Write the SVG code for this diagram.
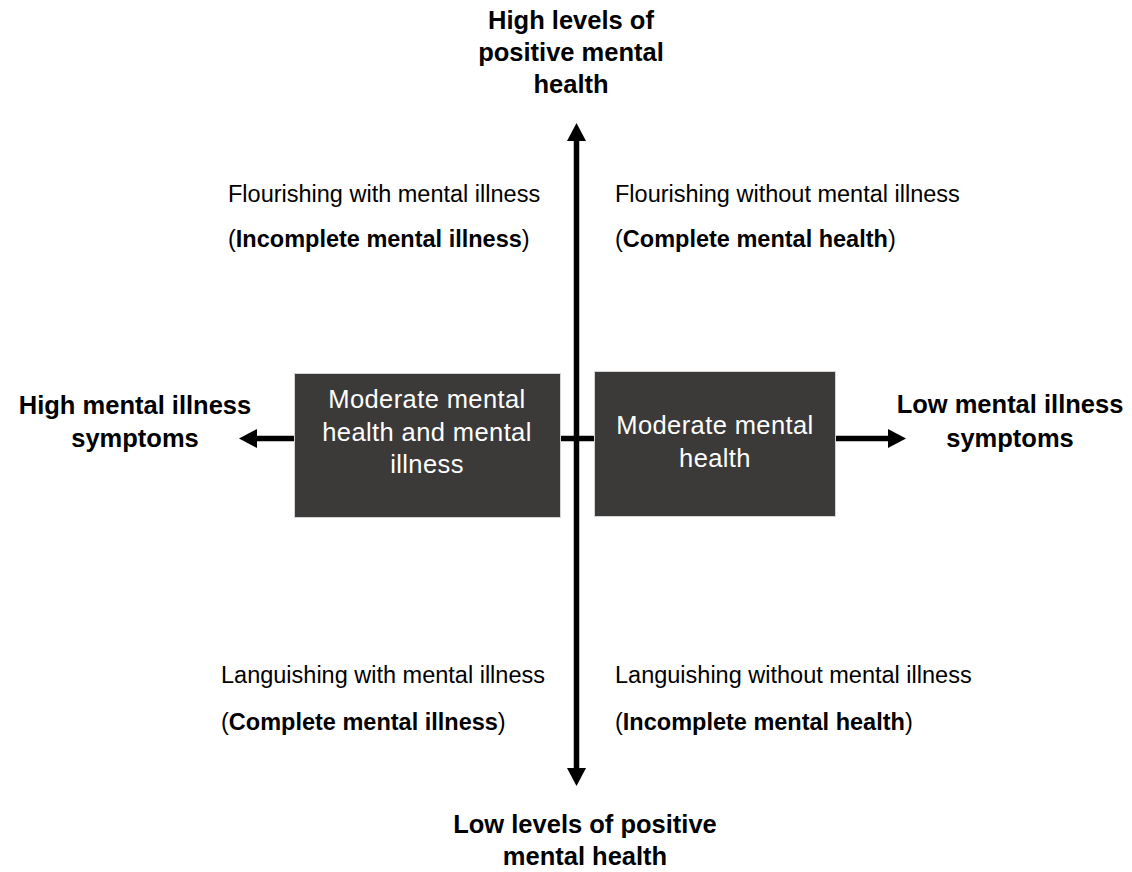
<svg xmlns="http://www.w3.org/2000/svg" width="1132" height="872" viewBox="0 0 1132 872">
<style>
  text { font-family: "Liberation Sans", Arial, sans-serif; fill: #000; }
  .head { font-size: 25.5px; font-weight: bold; text-anchor: middle; }
  .body { font-size: 23.5px; }
  .b { font-weight: bold; }
  .box { fill: #3b3a39; stroke: #d4d4d4; stroke-width: 1; }
  .boxtext { font-size: 25.5px; fill: #ffffff; text-anchor: middle; letter-spacing: 0.4px; }
  .axis { stroke: #000; stroke-width: 5.5; fill: none; }
</style>
<defs>
  <marker id="arrow" viewBox="0 0 18 19" markerWidth="18" markerHeight="19" refX="0" refY="9.5" orient="auto-start-reverse" markerUnits="userSpaceOnUse">
    <path d="M0,0 L18,9.5 L0,19 z" fill="#000"/>
  </marker>
</defs>
<rect width="1132" height="872" fill="#fff"/>

<g id="connectors">
  <line class="axis" x1="257" y1="438.5" x2="888" y2="438.5" marker-start="url(#arrow)" marker-end="url(#arrow)"/>
  <line class="axis" x1="576.5" y1="141" x2="576.5" y2="768" marker-start="url(#arrow)" marker-end="url(#arrow)"/>
</g>

<g id="node-top">
  <text class="head" x="571" y="29">High levels of</text>
  <text class="head" x="571" y="61">positive mental</text>
  <text class="head" x="571" y="93">health</text>
</g>

<g id="node-bottom">
  <text class="head" x="585" y="833">Low levels of positive</text>
  <text class="head" x="585" y="865">mental health</text>
</g>

<g id="node-left">
  <text class="head" x="135" y="414">High mental illness</text>
  <text class="head" x="135" y="447">symptoms</text>
</g>

<g id="node-right">
  <text class="head" x="1010" y="413">Low mental illness</text>
  <text class="head" x="1010" y="447">symptoms</text>
</g>

<g id="node-top-left">
  <text class="body" x="228" y="202">Flourishing with mental illness</text>
  <text class="body" x="228" y="247">(<tspan class="b">Incomplete mental illness</tspan>)</text>
</g>

<g id="node-top-right">
  <text class="body" x="615" y="202">Flourishing without mental illness</text>
  <text class="body" x="615" y="247">(<tspan class="b">Complete mental health</tspan>)</text>
</g>

<g id="node-bottom-left">
  <text class="body" x="221" y="683">Languishing with mental illness</text>
  <text class="body" x="221" y="730">(<tspan class="b">Complete mental illness</tspan>)</text>
</g>

<g id="node-bottom-right">
  <text class="body" x="615" y="683">Languishing without mental illness</text>
  <text class="body" x="615" y="730">(<tspan class="b">Incomplete mental health</tspan>)</text>
</g>

<g id="node-moderate-both">
  <rect class="box" x="294.5" y="373.5" width="266" height="144"/>
  <text class="boxtext" x="427" y="408">Moderate mental</text>
  <text class="boxtext" x="427" y="441">health and mental</text>
  <text class="boxtext" x="427" y="473">illness</text>
</g>

<g id="node-moderate-health">
  <rect class="box" x="594.5" y="371.5" width="241" height="145"/>
  <text class="boxtext" x="715" y="434">Moderate mental</text>
  <text class="boxtext" x="715" y="467">health</text>
</g>
</svg>
